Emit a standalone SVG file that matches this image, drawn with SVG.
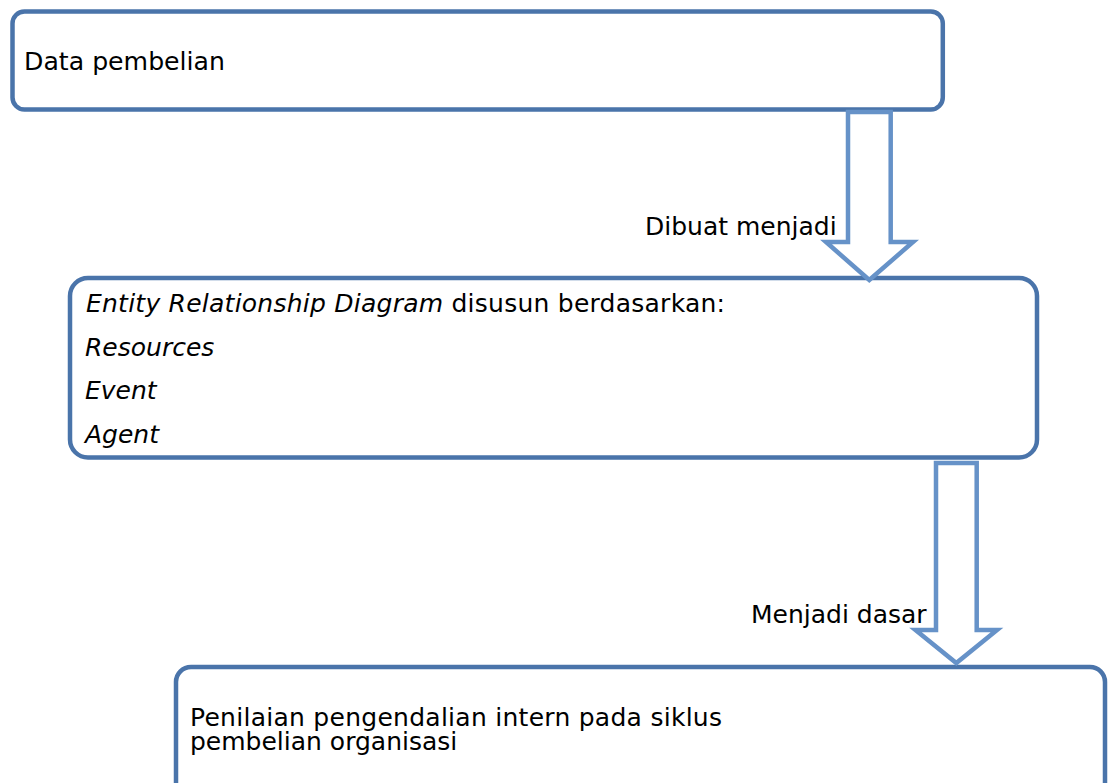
<svg xmlns="http://www.w3.org/2000/svg" width="1111" height="783" viewBox="0 0 1111 783">
<style>
.box{fill:#ffffff;stroke:#4A74AA;stroke-width:4.5}
.arrow{fill:#ffffff;stroke:#6692C8;stroke-width:4.5;stroke-linejoin:miter}
.t{font-family:"DejaVu Sans","Liberation Sans",sans-serif;font-size:25px;fill:#000000}
.i{font-style:italic}
</style>
<rect width="1111" height="783" fill="#ffffff"/>
<g id="node-data">
<rect class="box" x="12.5" y="11.5" width="930.3" height="98" rx="12" ry="12"/>
<text class="t" x="24" y="70" textLength="201" lengthAdjust="spacingAndGlyphs">Data pembelian</text>
</g>
<g id="node-erd">
<rect class="box" x="70" y="278" width="967" height="179.5" rx="18" ry="18"/>
<text class="t" x="86" y="312" textLength="639" lengthAdjust="spacing"><tspan class="i">Entity Relationship Diagram</tspan> disusun berdasarkan:</text>
<text class="t i" x="85" y="355.5">Resources</text>
<text class="t i" x="85" y="399">Event</text>
<text class="t i" x="85" y="443">Agent</text>
</g>
<g id="node-penilaian">
<rect class="box" x="176" y="667" width="929" height="140" rx="15" ry="15"/>
<text class="t" x="190" y="726" textLength="532" lengthAdjust="spacing">Penilaian pengendalian intern pada siklus</text>
<text class="t" x="190" y="750">pembelian organisasi</text>
</g>
<g id="connectors">
<path class="arrow" d="M848,112 L890.7,112 L890.7,242 L913,242 L869.3,280 L826,242 L848,242 Z"/>
<path class="arrow" d="M936,463 L976.7,463 L976.7,630 L997,630 L956.3,663 L915.5,630 L936,630 Z"/>
<text class="t" x="645" y="235">Dibuat menjadi</text>
<text class="t" x="751" y="623">Menjadi dasar</text>
</g>
</svg>
